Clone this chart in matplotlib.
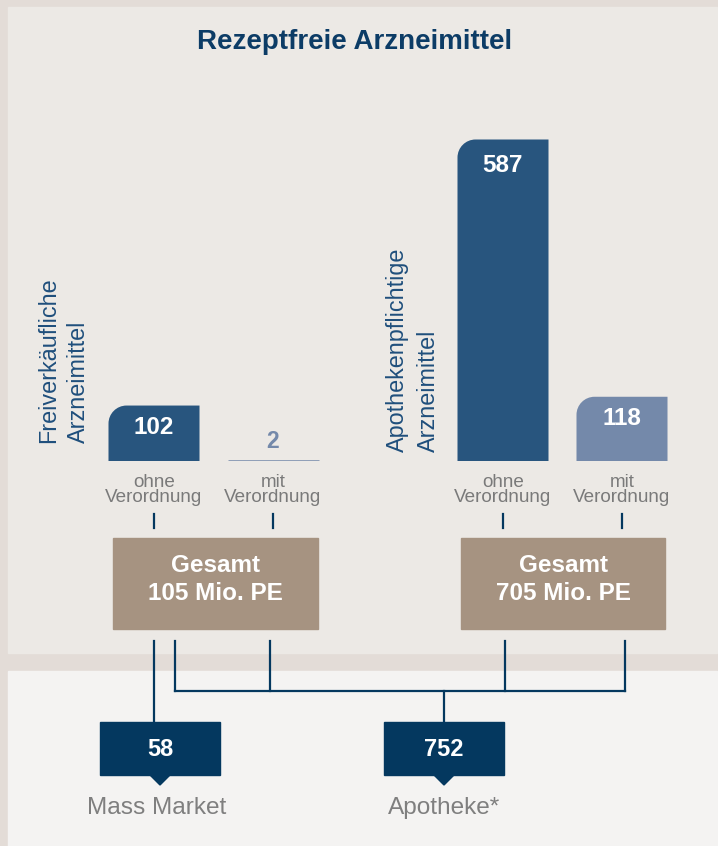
import numpy as np
import matplotlib.pyplot as plt
from matplotlib.patches import Rectangle, PathPatch, Polygon
from matplotlib.path import Path

plt.rcParams['font.family'] = ['Liberation Sans', 'DejaVu Sans']

# data
groups = ["Freiverkäufliche\nArzneimittel", "Apothekenpflichtige\nArzneimittel"]
bar_labels = ["ohne\nVerordnung", "mit\nVerordnung", "ohne\nVerordnung", "mit\nVerordnung"]
bar_values = [102, 2, 587, 118]
totals = [105, 705]
channels = ["Mass Market", "Apotheke*"]
channel_values = [58, 752]

# colours
c_dark = '#28557e'
c_light = '#7489aa'
c_tan = '#a69381'
c_navy = '#04385f'
c_title = '#0c3c66'
c_gray = '#7a7a7a'

W, H = 718, 846
fig = plt.figure(figsize=(W / 100, H / 100), dpi=100)
fig.patch.set_facecolor('#e3dcd7')

# layout axes in pixel units
ax = fig.add_axes([0, 0, 1, 1])
ax.set_xlim(0, W)
ax.set_ylim(H, 0)
ax.axis('off')
ax.add_patch(Rectangle((8, 7), 709, 646, color='#ece9e5', zorder=0))
ax.add_patch(Rectangle((8, 671), 709, 180, color='#f4f3f2', zorder=0))

ax.text(355, 42, "Rezeptfreie Arzneimittel", ha='center', va='center',
        fontsize=20, fontweight='bold', color=c_title)

# bar axes: x in pixels, y in values
base = 461.5
top = 130
bx = fig.add_axes([0, (H - base) / H, 1, (base - top) / H])
bx.set_xlim(0, W)
px_per_unit = 322 / 587
bx.set_ylim(0, (base - top) / px_per_unit)
bx.axis('off')
bx.patch.set_alpha(0)

centers = [154, 273, 503, 622]
width = 91
colors = [c_dark, c_light, c_dark, c_light]
bars = bx.bar(centers, bar_values, width=width, color=colors)

r_px = 18
k = 0.5523
for b, v, col in zip(bars, bar_values, colors):
    x0 = b.get_x()
    w = b.get_width()
    h = b.get_height()
    b.set_visible(False)
    if v < 10:
        # tiny bar drawn as a line
        bx.plot([x0, x0 + w], [h / 2, h / 2], color=col, lw=1.8, solid_capstyle='butt')
        bx.annotate(str(v), (x0 + w / 2, h), xytext=(0, 19), textcoords='offset pixels',
                    ha='center', va='center', fontsize=16.5, fontweight='bold', color=col)
        continue
    rx = r_px
    ry = r_px / px_per_unit
    verts = [(x0, 0), (x0 + w, 0), (x0 + w, h), (x0 + rx, h),
             (x0 + rx * (1 - k), h), (x0, h - ry * (1 - k)), (x0, h - ry), (x0, 0)]
    codes = [Path.MOVETO, Path.LINETO, Path.LINETO, Path.LINETO,
             Path.CURVE4, Path.CURVE4, Path.CURVE4, Path.CLOSEPOLY]
    bx.add_patch(PathPatch(Path(verts, codes), facecolor=col, edgecolor='none'))
    off = -26 if v > 300 else -22
    bx.annotate(str(v), (x0 + w / 2, h), xytext=(0, off), textcoords='offset pixels',
                ha='center', va='center', fontsize=17.5, fontweight='bold', color='white')

# category labels and ticks
for cx, lab in zip(centers, bar_labels):
    ax.text(cx, 490, lab, ha='center', va='center', fontsize=13.6,
            color=c_gray, linespacing=0.92)
    ax.plot([cx, cx], [514, 528], color=c_navy, lw=1.6)

# vertical group labels
for (x1, x2), g in zip([(55, 85), (403.5, 435)], groups):
    l1, l2 = g.split("\n")
    y0 = 443 if x1 < 100 else 452
    for xx, t in [(x1, l1), (x2, l2)]:
        ax.text(xx, y0, t, rotation=90, rotation_mode='anchor', ha='left',
                va='baseline', fontsize=16.8, color='#1f4f7c')

# totals boxes
for (bx0, bx1), tot in zip([(113, 318), (461, 665)], totals):
    ax.add_patch(Rectangle((bx0, 538), bx1 - bx0, 91, color=c_tan))
    ax.text((bx0 + bx1) / 2, 565, "Gesamt", ha='center', va='center',
            fontsize=17.5, fontweight='bold', color='white')
    ax.text((bx0 + bx1) / 2, 594, f"{tot} Mio. PE", ha='center', va='center',
            fontsize=17.5, fontweight='bold', color='white')

# connector lines
lw = 1.6
ax.plot([154, 154], [641, 722], color=c_navy, lw=lw)
for xx in [175, 270, 505, 625]:
    ax.plot([xx, xx], [641, 691], color=c_navy, lw=lw)
ax.plot([175, 625], [691, 691], color=c_navy, lw=lw, solid_capstyle='projecting')
ax.plot([444, 444], [691, 722], color=c_navy, lw=lw)

# channel boxes
for (x0, x1), name, val in zip([(100, 220), (384, 504)], channels, channel_values):
    cx = (x0 + x1) / 2
    ax.add_patch(Rectangle((x0, 722), x1 - x0, 53, color=c_navy))
    ax.add_patch(Polygon([(cx - 11, 774), (cx + 11, 774), (cx, 785)], color=c_navy))
    ax.text(cx, 749, str(val), ha='center', va='center', fontsize=17,
            fontweight='bold', color='white')
    ax.text(cx - 3 if x0 < 200 else cx, 808, name, ha='center', va='center',
            fontsize=17.6, color='#7f7f7f')

fig.savefig('out.png', dpi=100, facecolor=fig.get_facecolor())
